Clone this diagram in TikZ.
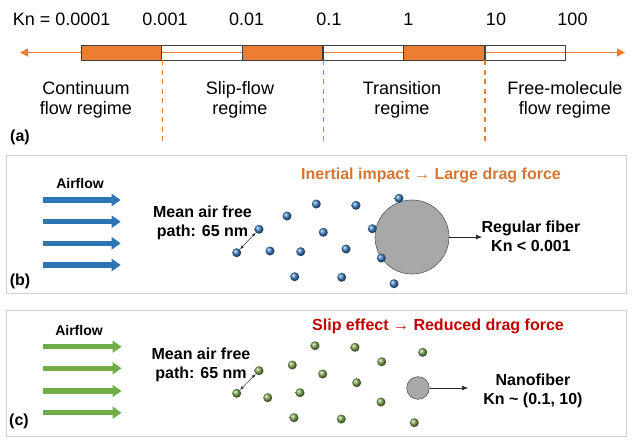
\documentclass[tikz,border=0pt]{standalone}
\usepackage{fontspec}
\setmainfont{Liberation Sans}
\usetikzlibrary{arrows.meta}
\definecolor{knorange}{RGB}{237,125,49}
\definecolor{flowblue}{RGB}{46,117,182}
\definecolor{flowgreen}{RGB}{112,173,71}
\definecolor{dotblue}{RGB}{60,125,190}
\definecolor{dotgreen}{RGB}{125,165,80}
\definecolor{boxgray}{RGB}{208,208,208}
\definecolor{fibergray}{RGB}{168,168,168}
\definecolor{titleorange}{RGB}{210,118,55}
\definecolor{titlered}{RGB}{192,0,0}

\begin{document}
\begin{tikzpicture}[x=1pt, y=-1pt,
	kn/.style={inner sep=0pt, font=\fontsize{18}{20}\selectfont},
	regime/.style={inner sep=0pt, align=center, font=\fontsize{18}{20}\selectfont},
	seg/.style={draw=black!75, line width=0.8pt, minimum width=80.8pt, minimum height=14.5pt, inner sep=0pt},
	panel/.style={draw=boxgray, line width=1.2pt, minimum width=620pt, inner sep=0pt},
	lbl/.style={inner sep=0pt, align=center, font=\bfseries\fontsize{16}{19}\selectfont},
	bdot/.style={circle, inner sep=0pt, minimum size=9pt, ball color=dotblue},
	gdot/.style={circle, inner sep=0pt, minimum size=9pt, ball color=dotgreen},
	flowarrow/.style={line width=5.5pt, -{Triangle[length=9pt,width=12pt]}},
	fiber/.style={circle, draw=black!65, line width=0.6pt, fill=fibergray, inner sep=0pt}]
	\useasboundingbox (0,0) rectangle (640,441);

	% (a) Knudsen scale
	\coordinate (al) at (20,52.5);
	\coordinate (ar) at (625,52.5);
	\draw[knorange, line width=1.4pt, {Triangle[length=8pt,width=8pt]}-{Triangle[length=8pt,width=8pt]}] (al) -- (ar);
	\foreach \i/\x in {1/121.3, 3/282.7, 5/444.2}
		\node[seg, fill=knorange] (seg\i) at (\x,52.8) {};
	\foreach \i/\x in {2/202, 4/363.2, 6/525.3}
		\node[seg] (seg\i) at (\x,52.8) {};
	\foreach \i in {1,3,5} {
		\path (seg\i.south east) ++(0,82) coordinate (dend\i);
		\draw[knorange, line width=1.2pt, dash pattern=on 5pt off 4.5pt] (seg\i.south east) -- (dend\i);
	}
	\node[kn] (kn0) at (61.7,19) {Kn = 0.0001};
	\node[kn] (kn1) at (165,19) {0.001};
	\node[kn] (kn2) at (246.7,19) {0.01};
	\node[kn] (kn3) at (329,19) {0.1};
	\node[kn] (kn4) at (408.3,19) {1};
	\node[kn] (kn5) at (496,19) {10};
	\node[kn] (kn6) at (572.5,19) {100};
	\node[regime] (cont) at (86,99.5) {Continuum\\flow regime};
	\node[regime] (slip) at (240,99.5) {Slip-flow\\regime};
	\node[regime] (trans) at (402,99.5) {Transition\\regime};
	\node[regime] (free) at (565,99.5) {Free-molecule\\flow regime};
	\node[lbl] (la) at (20,137) {(a)};

	% (b) regular fiber
	\node[panel, minimum height=138pt] (pb) at (316.8,224.8) {};
	\node[lbl, font=\bfseries\fontsize{14}{16}\selectfont] (airb) at (80,183.3) {Airflow};
	\foreach \i/\y in {1/200, 2/221.7, 3/243.3, 4/265} {
		\coordinate (bs\i) at (42.7,\y);
		\coordinate (be\i) at (120.7,\y);
		\draw[flowblue, flowarrow] (bs\i) -- (be\i);
	}
	\node[lbl] (lb) at (20,281) {(b)};
	\node[lbl] (mfpb) at (202.5,222.5) {Mean air free\\path: 65 nm};
	\node[lbl, text=titleorange] (titb) at (431,175) {Inertial impact → Large drag force};
	\node[fiber, minimum size=74pt] (regfib) at (412,237) {};
	\foreach \x/\y [count=\i] in {259/229.3, 236.7/252.7, 270/251, 300.7/251.7, 287/216,
		316.3/204, 356/205.3, 323.3/232.3, 346/249, 372.3/228.7, 399/198.3,
		381.3/258, 294.7/276.7, 341.7/277.3, 394/283.7}
		\node[bdot] (b\i) at (\x,\y) {};
	\draw[black!80, line width=0.5pt, {Latex[length=4pt,width=3pt]}-{Latex[length=4pt,width=3pt]}] (b1) -- (b2);
	\coordinate (rfend) at (482,237);
	\draw[black!85, line width=0.6pt, -{Latex[length=6pt,width=5pt]}] (regfib) -- (rfend);
	\node[lbl] (regtxt) at (531,236) {Regular fiber\\Kn < 0.001};

	% (c) nanofiber
	\node[panel, minimum height=126pt] (pc) at (316.8,373.7) {};
	\node[lbl, font=\bfseries\fontsize{14}{16}\selectfont] (airc) at (79,330) {Airflow};
	\foreach \i/\y in {1/346.7, 2/368.3, 3/391, 4/412.7} {
		\coordinate (cs\i) at (42.7,\y);
		\coordinate (ce\i) at (121.5,\y);
		\draw[flowgreen, flowarrow] (cs\i) -- (ce\i);
	}
	\node[lbl] (lc) at (19,421.7) {(c)};
	\node[lbl] (mfpc) at (201,364.5) {Mean air free\\path: 65 nm};
	\node[lbl, text=titlered] (titc) at (438,326.4) {Slip effect → Reduced drag force};
	\node[fiber, minimum size=22.6pt] (nanofib) at (418,388) {};
	\foreach \x/\y [count=\i] in {259/370.7, 236.7/393.3, 267.7/397.7, 300/392.7, 292.3/365,
		315/345.7, 355/347.3, 322.7/374, 356.7/382.7, 381.7/361.7, 422.7/352.3,
		381/402, 294/417.7, 341.3/419, 414.3/422.7}
		\node[gdot] (g\i) at (\x,\y) {};
	\draw[black!80, line width=0.5pt, {Latex[length=4pt,width=3pt]}-{Latex[length=4pt,width=3pt]}] (g1) -- (g2);
	\coordinate (nfend) at (468,388);
	\draw[black!85, line width=0.6pt, -{Latex[length=6pt,width=5pt]}] (nanofib) -- (nfend);
	\node[lbl] (nanotxt) at (533,391) {Nanofiber\\Kn \textasciitilde{} (0.1, 10)};
\end{tikzpicture}
\end{document}
